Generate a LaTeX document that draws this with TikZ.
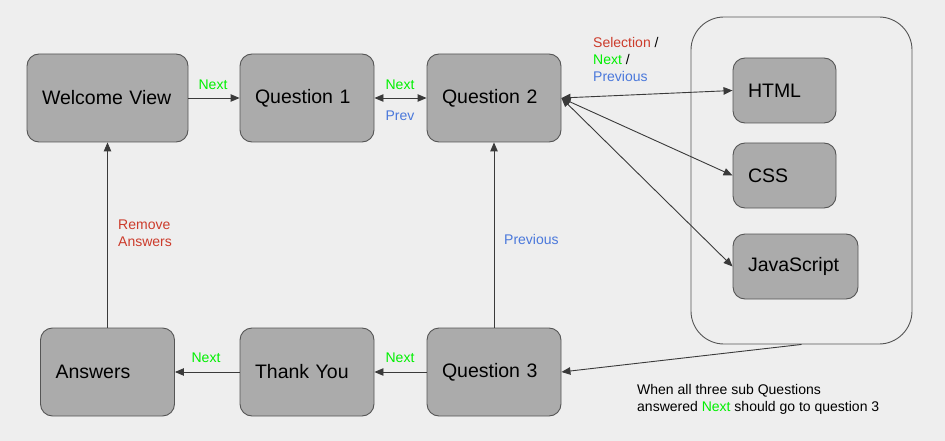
\documentclass[tikz,border=0pt]{standalone}
\usepackage{fontspec}
\setmainfont{Liberation Sans}
\usetikzlibrary{arrows.meta}
\definecolor{bg}{HTML}{EEEEEE}
\definecolor{boxfill}{HTML}{ABABAB}
\definecolor{boxline}{HTML}{555555}
\definecolor{lnk}{HTML}{3A3A3A}
\definecolor{gnext}{HTML}{00F000}
\definecolor{rsel}{HTML}{CC3B2B}
\definecolor{bprev}{HTML}{4A78DB}
\begin{document}
\begin{tikzpicture}[x=1pt,y=-1pt,
  viewbox/.style={draw=boxline, fill=boxfill, rounded corners=12pt, line width=0.9pt,
    minimum height=88pt, inner xsep=15pt, inner ysep=0pt, align=left,
    font=\fontsize{19.5}{22}\selectfont},
  subbox/.style={viewbox, minimum height=65pt},
  groupbox/.style={draw=boxline, rounded corners=33pt, line width=0.9pt},
  link/.style={draw=lnk, line width=0.9pt, -{Triangle[length=9pt,width=7.5pt]}},
  biglink/.style={draw=lnk, line width=0.9pt, {Triangle[length=9pt,width=7.5pt]}-{Triangle[length=9pt,width=7.5pt]}},
  lbl/.style={inner sep=0pt, font=\fontsize{14}{17}\selectfont, align=left},
  note/.style={inner sep=0pt, font=\fontsize{14}{17}\selectfont, align=left, text=black}
]
\fill[bg] (0,0) rectangle (945,441);
\useasboundingbox (0,0) rectangle (945,441);

% group container
\node[groupbox, minimum width=221pt, minimum height=327pt] (grp) at (801.5,180.5) {};

% main boxes
\node[viewbox, text width=131pt] (welcome) at (107.5,98) {Welcome View};
\node[viewbox, text width=104pt] (q1) at (307,98) {Question 1};
\node[viewbox, text width=104pt] (q2) at (494,98) {Question 2};
\node[viewbox, text width=104pt] (answers) at (107.5,372) {Answers};
\node[viewbox, text width=104pt] (thank) at (307,372) {Thank You};
\node[viewbox, text width=104pt] (q3) at (494,372) {Question 3};

% sub boxes
\node[subbox, text width=73pt] (html) at (784.5,90.5) {HTML};
\node[subbox, text width=73pt] (css) at (784.5,175.5) {CSS};
\node[subbox, text width=95pt] (js) at (795.5,266.5) {JavaScript};

% connectors
\draw[link] (welcome.east) -- (q1.west);
\draw[biglink] (q1.east) -- (q2.west);
\draw[biglink] (q2.east) -- (html.west);
\draw[biglink] (q2.east) -- (css.west);
\draw[biglink] (q2.east) -- (js.west);
\draw[link] (q3.north) -- (q2.south);
\draw[link] (answers.north) -- (welcome.south);
\draw[link] (q3.west) -- (thank.east);
\draw[link] (thank.west) -- (answers.east);
\draw[link] (grp.south) -- (q3.east);

% labels
\node[lbl, text=gnext] (l1) at (213,85) {Next};
\node[lbl, text=gnext] (l2) at (400,85) {Next};
\node[lbl, text=bprev] (l3) at (400,115.5) {Prev};
\node[lbl, anchor=west] (l4) at (593,59) {\textcolor{rsel}{Selection} /\\\textcolor{gnext}{Next} /\\\textcolor{bprev}{Previous}};
\node[lbl, anchor=west, text=rsel] (l5) at (118,233) {Remove\\Answers};
\node[lbl, anchor=west, text=bprev] (l6) at (504,239) {Previous};
\node[lbl, text=gnext] (l7) at (206,358) {Next};
\node[lbl, text=gnext] (l8) at (400,358) {Next};
\node[note, anchor=west] (nt) at (637,399.5) {When all three sub Questions\\answered \textcolor{gnext}{Next} should go to question 3};
\end{tikzpicture}
\end{document}
